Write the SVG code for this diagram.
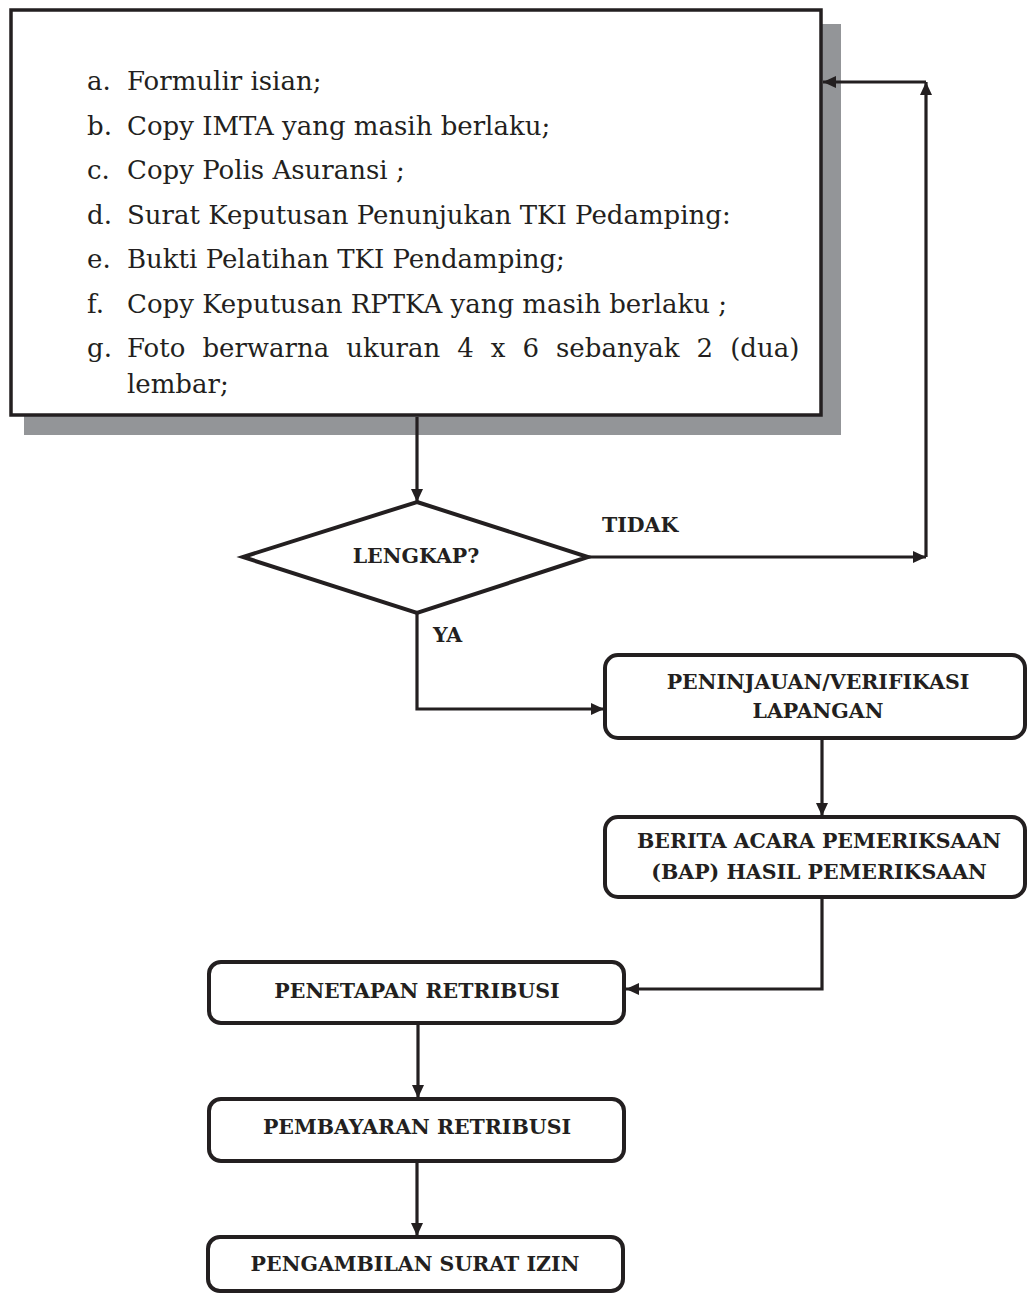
<svg xmlns="http://www.w3.org/2000/svg" width="1027" height="1294" viewBox="0 0 1027 1294">
<style>
.item{font-family:"DejaVu Serif","Liberation Serif",serif;font-size:26px;fill:#231f20}
.lbl{font-family:"DejaVu Serif","Liberation Serif",serif;font-size:20.5px;font-weight:bold;fill:#231f20}
.box{fill:#fff;stroke:#231f20;stroke-width:4}
.conn{fill:none;stroke:#231f20;stroke-width:3.2}
</style>
<defs>
<marker id="ah" viewBox="0 0 13 12" refX="13" refY="6" markerWidth="13" markerHeight="12" markerUnits="userSpaceOnUse" orient="auto">
<path d="M0,0 L13,6 L0,12 z" fill="#231f20"/>
</marker>
</defs>
<rect width="1027" height="1294" fill="#fff"/>

<g id="requirements">
<rect x="24" y="24" width="817" height="411" fill="#939598"/>
<rect x="11" y="10" width="810" height="405" fill="#fff" stroke="#231f20" stroke-width="3.5"/>
<text class="item" x="87" y="90">a.</text><text class="item" x="127" y="90">Formulir isian;</text>
<text class="item" x="87" y="134.5">b.</text><text class="item" x="127" y="134.5">Copy IMTA yang masih berlaku;</text>
<text class="item" x="87" y="179">c.</text><text class="item" x="127" y="179">Copy Polis Asuransi ;</text>
<text class="item" x="87" y="223.5">d.</text><text class="item" x="127" y="223.5">Surat Keputusan Penunjukan TKI Pedamping:</text>
<text class="item" x="87" y="268">e.</text><text class="item" x="127" y="268">Bukti Pelatihan TKI Pendamping;</text>
<text class="item" x="87" y="312.5">f.</text><text class="item" x="127" y="312.5">Copy Keputusan RPTKA yang masih berlaku ;</text>
<text class="item" x="87" y="357">g.</text><text class="item" x="127" y="357" word-spacing="8.75">Foto berwarna ukuran 4 x 6 sebanyak 2 (dua)</text>
<text class="item" x="127" y="393">lembar;</text>
</g>

<g id="decision">
<polygon points="417,502 588,557 417,613 243,557" fill="#fff" stroke="#231f20" stroke-width="4"/>
<text class="lbl" x="416" y="563" text-anchor="middle">LENGKAP?</text>
</g>

<g id="peninjauan">
<rect class="box" x="605" y="655" width="420" height="83" rx="13"/>
<text class="lbl" x="818" y="689" text-anchor="middle">PENINJAUAN/VERIFIKASI</text>
<text class="lbl" x="818" y="718" text-anchor="middle">LAPANGAN</text>
</g>

<g id="bap">
<rect class="box" x="605" y="817" width="420" height="80" rx="13"/>
<text class="lbl" x="819" y="848" text-anchor="middle">BERITA ACARA PEMERIKSAAN</text>
<text class="lbl" x="819" y="879" text-anchor="middle">(BAP) HASIL PEMERIKSAAN</text>
</g>

<g id="penetapan">
<rect class="box" x="209" y="962" width="415" height="61" rx="12"/>
<text class="lbl" x="417" y="998" text-anchor="middle">PENETAPAN RETRIBUSI</text>
</g>

<g id="pembayaran">
<rect class="box" x="209" y="1099" width="415" height="62" rx="12"/>
<text class="lbl" x="417" y="1134" text-anchor="middle">PEMBAYARAN RETRIBUSI</text>
</g>

<g id="pengambilan">
<rect class="box" x="208" y="1237" width="415" height="54" rx="12"/>
<text class="lbl" x="415" y="1271" text-anchor="middle">PENGAMBILAN SURAT IZIN</text>
</g>

<g id="connectors">
<line class="conn" x1="417" y1="417" x2="417" y2="502" marker-end="url(#ah)"/>
<line class="conn" x1="588" y1="557" x2="926" y2="557" marker-end="url(#ah)"/>
<line class="conn" x1="926" y1="557" x2="926" y2="82" marker-end="url(#ah)"/>
<line class="conn" x1="926" y1="82" x2="823" y2="82" marker-end="url(#ah)"/>
<polyline class="conn" points="417,613 417,709 604,709" marker-end="url(#ah)"/>
<line class="conn" x1="822" y1="738" x2="822" y2="816" marker-end="url(#ah)"/>
<polyline class="conn" points="822,897 822,989 626,989" marker-end="url(#ah)"/>
<line class="conn" x1="418" y1="1023" x2="418" y2="1098" marker-end="url(#ah)"/>
<line class="conn" x1="417" y1="1161" x2="417" y2="1236" marker-end="url(#ah)"/>
<text class="lbl" x="602" y="532">TIDAK</text>
<text class="lbl" x="433" y="642">YA</text>
</g>
</svg>
